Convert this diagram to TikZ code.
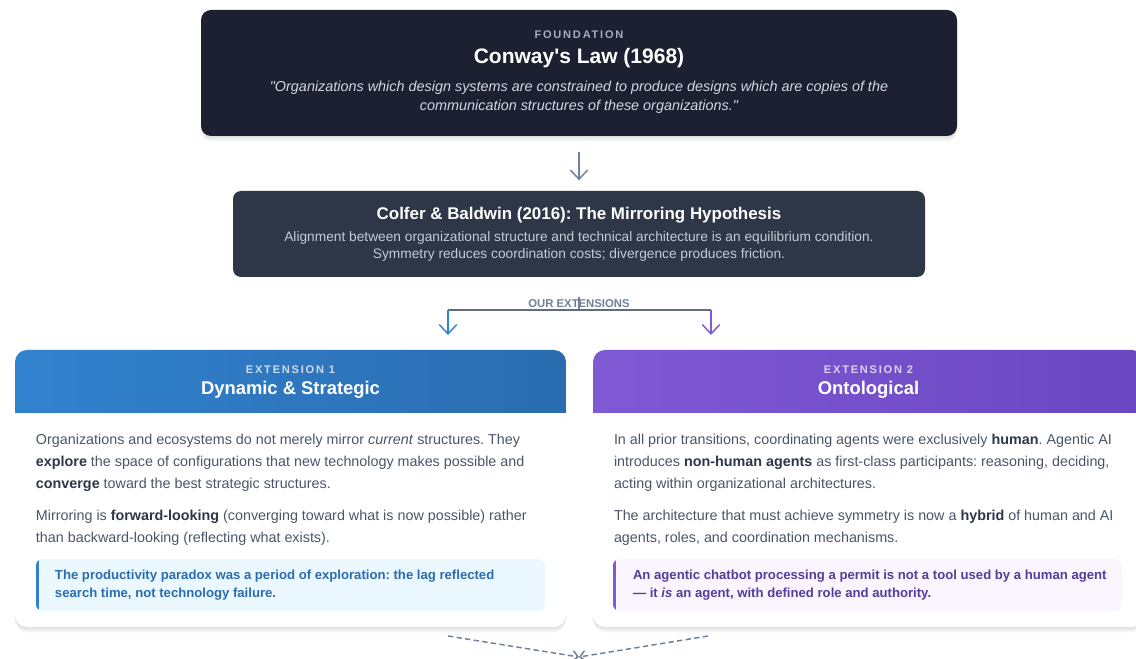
\documentclass[tikz,border=0pt]{standalone}
\usepackage{fontspec}
\setmainfont{Liberation Sans}
\usepackage{xcolor}
\usepackage{tikz}
\usetikzlibrary{positioning,arrows.meta}
\definecolor{inkdark}{HTML}{1C2030}
\definecolor{inkslate}{HTML}{2D3748}
\definecolor{slate}{HTML}{718096}
\definecolor{kickgray}{HTML}{A0AEC0}
\definecolor{quotegray}{HTML}{D2D8E2}
\definecolor{subgray}{HTML}{C3CBD7}
\definecolor{bodytext}{HTML}{4A5568}
\definecolor{bodybold}{HTML}{2D3748}
\definecolor{blueA}{HTML}{3182CE}
\definecolor{blueB}{HTML}{2B6CB0}
\definecolor{bluebg}{HTML}{EBF8FF}
\definecolor{purpA}{HTML}{805AD5}
\definecolor{purpB}{HTML}{6B46C1}
\definecolor{purptext}{HTML}{553C9A}
\definecolor{purpbg}{HTML}{FAF5FF}

\newcommand{\bodybf}[1]{{\bfseries\color{bodybold}#1}}
\frenchspacing

\begin{document}
\begin{tikzpicture}[x=0.75pt,y=-0.75pt,
  every node/.style={inner sep=0pt,outer sep=0pt},
  >={Straight Barb[length=7pt,width=13pt,line width=1.1pt]},
  % soft shadow: a few faint offset copies behind the shape
  softshadow/.style={
    preaction={fill=black,opacity=0.04,transform canvas={yshift=-4pt}},
    preaction={fill=black,opacity=0.04,transform canvas={yshift=-2.5pt}},
    preaction={fill=black,opacity=0.05,transform canvas={yshift=-1pt}}},
  darkbox/.style={rounded corners=7.5pt,softshadow},
  card/.style={fill=white,rounded corners=9pt,softshadow},
  kicker/.style={font=\fontsize{8.3}{9}\selectfont\bfseries\addfontfeature{LetterSpace=16}},
  bigtitle/.style={text=white,font=\fontsize{15.75}{18}\selectfont\bfseries},
  cardtitle/.style={text=white,font=\fontsize{13.8}{16}\selectfont\bfseries},
  body/.style={text=bodytext,align=left,anchor=west,font=\fontsize{10.75}{16.5}\selectfont},
  note/.style={align=left,anchor=west,font=\fontsize{9.85}{13.5}\selectfont\bfseries},
  flow/.style={draw=slate,line width=1.1pt},
  dashflow/.style={draw=slate,line width=1.1pt,dash pattern=on 4pt off 2.5pt,
    -{Straight Barb[length=4pt,width=8pt]}}]

\useasboundingbox[fill=white] (0,0) rectangle (1136,659);

% foundation
\node[darkbox,fill=inkdark,minimum width=567pt,minimum height=94.5pt] (conway) at (579,73) {};
\node[kicker,text=kickgray] (conwaykick) at (579,35) {FOUNDATION};
\node[bigtitle] (conwaytitle) at (579,58) {Conway\textquotesingle s Law (1968)};
\node[text=quotegray,align=center,font=\fontsize{10.8}{14.25}\selectfont\itshape] (conwayquote) at (579,97.5)
  {\textquotedbl Organizations which design systems are constrained to produce designs which are copies of the\\
   communication structures of these organizations.\textquotedbl};

% mirroring hypothesis
\node[fill=inkslate,rounded corners=6pt,minimum width=519pt,minimum height=64.5pt] (mirror) at (579,234) {};
\node[text=white,font=\fontsize{12.7}{14}\selectfont\bfseries] (mirrortitle) at (579,215)
  {Colfer \& Baldwin (2016): The Mirroring Hypothesis};
\node[text=subgray,align=center,font=\fontsize{10.3}{12.75}\selectfont] (mirrortext) at (579,246.5)
  {Alignment between organizational structure and technical architecture is an equilibrium condition.\\
   Symmetry reduces coordination costs; divergence produces friction.};

\draw[flow,->,shorten <=12pt,shorten >=8pt] (conway) -- (mirror);

% the two extension cards
\node[card,minimum width=413.25pt,minimum height=207.75pt] (ext1) at (290.5,488.5) {};
\node[card,minimum width=413.25pt,minimum height=207.75pt] (ext2) at (868.5,488.5) {};

\begin{scope}
  \clip[rounded corners=9pt] (ext1.south west) rectangle (ext1.north east);
  \shade[left color=blueA,right color=blueB] (ext1.north west) rectangle ([yshift=-47.25pt]ext1.north east);
\end{scope}
\begin{scope}
  \clip[rounded corners=9pt] (ext2.south west) rectangle (ext2.north east);
  \shade[left color=purpA,right color=purpB] (ext2.north west) rectangle ([yshift=-47.25pt]ext2.north east);
\end{scope}

\node[kicker,text=white,opacity=0.75] (ext1kick) at (290.5,370) {EXTENSION 1};
\node[cardtitle] (ext1title) at (290.5,390) {Dynamic \& Strategic};
\node[kicker,text=white,opacity=0.75] (ext2kick) at (868.5,370) {EXTENSION 2};
\node[cardtitle] (ext2title) at (868.5,390) {Ontological};

% extension 1 body
\node[body] (ext1a) at (36,462.5)
  {Organizations and ecosystems do not merely mirror \emph{current} structures. They\\
   \bodybf{explore} the space of configurations that new technology makes possible and\\
   \bodybf{converge} toward the best strategic structures.};
\node[body] (ext1b) at (36,528)
  {Mirroring is \bodybf{forward-looking} (converging toward what is now possible) rather\\
   than backward-looking (reflecting what exists).};
\node[fill=bluebg,rounded corners=5pt,minimum width=381.75pt,minimum height=39pt] (note1) at (290.5,585) {};
\begin{scope}
  \clip[rounded corners=5pt] (note1.south west) rectangle (note1.north east);
  \fill[blueA] (note1.south west) rectangle ([xshift=2.4pt]note1.north west);
\end{scope}
\node[note,text=blueB] (note1text) at (55,585)
  {The productivity paradox was a period of exploration: the lag reflected\\
   search time, not technology failure.};

% extension 2 body
\node[body] (ext2a) at (614,462.5)
  {In all prior transitions, coordinating agents were exclusively \bodybf{human}. Agentic AI\\
   introduces \bodybf{non-human agents} as first-class participants: reasoning, deciding,\\
   acting within organizational architectures.};
\node[body] (ext2b) at (614,528)
  {The architecture that must achieve symmetry is now a \bodybf{hybrid} of human and AI\\
   agents, roles, and coordination mechanisms.};
\node[fill=purpbg,rounded corners=5pt,minimum width=381.75pt,minimum height=39pt] (note2) at (867.5,585) {};
\begin{scope}
  \clip[rounded corners=5pt] (note2.south west) rectangle (note2.north east);
  \fill[purpA] (note2.south west) rectangle ([xshift=2.4pt]note2.north west);
\end{scope}
\node[note,text=purptext] (note2text) at (633,585)
  {An agentic chatbot processing a permit is not a tool used by a human agent\\
   --- it \textit{is} an agent, with defined role and authority.};

% fork into the extensions
\node[text=slate,font=\fontsize{8.5}{9}\selectfont\bfseries] (ourext) at (579,304) {OUR EXTENSIONS};
\coordinate (fork) at (579,297);
\coordinate (forkL) at (448,310);
\coordinate (forkR) at (711,310);
\draw[flow] (fork) -- (fork |- forkL);
\draw[flow,draw=slate!85!black] (forkL) -- (forkR);
\draw[flow,draw=blueA,->,shorten >=11.25pt] (forkL) -- (forkL |- ext1.north);
\draw[flow,draw=purpA,->,shorten >=11.25pt] (forkR) -- (forkR |- ext2.north);

% both extensions lead on
\coordinate (synthL) at (448,636);
\coordinate (synthR) at (708,636);
\coordinate (synth) at (579,657);
\draw[dashflow] (synthL) -- (synth);
\draw[dashflow] (synthR) -- (synth);
\end{tikzpicture}
\end{document}
